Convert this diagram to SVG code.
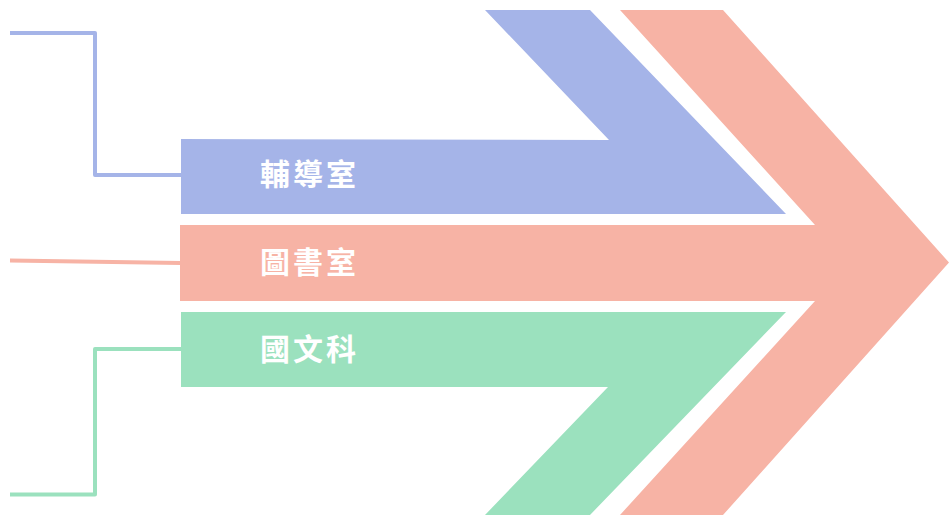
<svg xmlns="http://www.w3.org/2000/svg" width="949" height="516" viewBox="0 0 949 516">
<style>
.lbl{font-family:"Noto Sans CJK TC","Noto Sans CJK SC",sans-serif;font-weight:bold;font-size:30px;letter-spacing:3px;fill:#FFFFFF}
.conn{fill:none;stroke-width:4;stroke-linejoin:round}
</style>
<rect width="949" height="516" fill="#FFFFFF"/>
<g id="connectors">
<polyline class="conn" stroke="#A5B4E8" points="10,33 95,33 95,175 181,175"/>
<polyline class="conn" stroke="#F7B3A5" points="10,260.5 181,263"/>
<polyline class="conn" stroke="#9BE1BE" points="181,349 95,349 95,494.5 10,494.5"/>
</g>
<g id="node-pink">
<polygon fill="#F7B3A5" points="180,225 815,225 620,10 723,10 949,262.5 723,515 620,515 815,301 180,301"/>
<text class="lbl" x="260" y="272.5">圖書室</text>
</g>
<g id="node-blue">
<polygon fill="#A5B4E8" points="181,139 609,140 485,10 590,10 786,214 181,214"/>
<text class="lbl" x="260" y="185">輔導室</text>
</g>
<g id="node-green">
<polygon fill="#9BE1BE" points="181,312 786,312 590,515 485,515 608,387 181,387"/>
<text class="lbl" x="260" y="360">國文科</text>
</g>
</svg>
